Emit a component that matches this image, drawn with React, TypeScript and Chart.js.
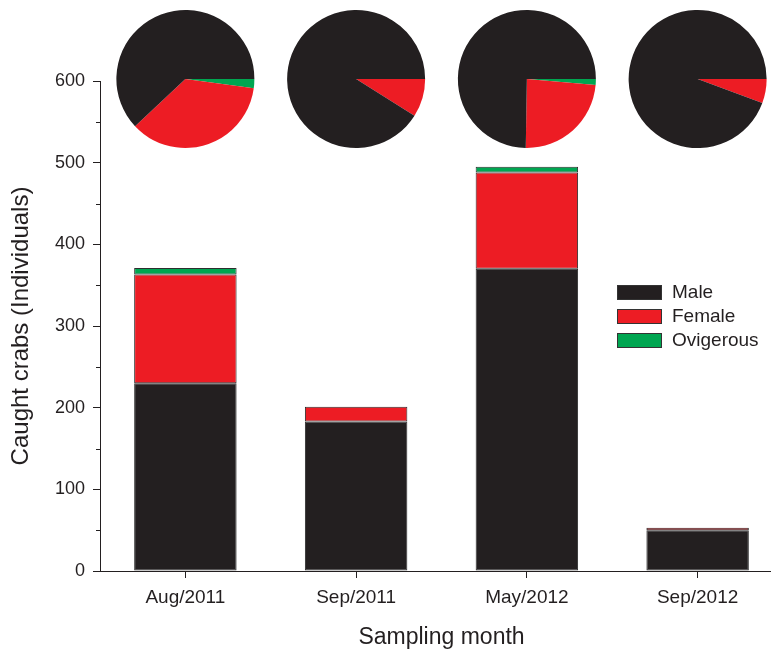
import React, { useEffect, useRef } from "react";
import { Chart, registerables } from "chart.js";

Chart.register(...registerables);

const categories = ["Aug/2011", "Sep/2011", "May/2012", "Sep/2012"];
const male = [230, 183, 370, 50];
const female = [133, 18, 118, 3];
const ovigerous = [8, 0, 7, 0];
const seriesNames = ["Male", "Female", "Ovigerous"];
const minorTicks = [50, 150, 250, 350, 450, 550];

const BLACK = "#231f20";
const RED = "#ed1c24";
const GREEN = "#00a651";
const FONT = "'Liberation Sans', Arial, Helvetica, sans-serif";

export default function App() {
  const ref = useRef<HTMLCanvasElement>(null);

  useEffect(() => {
    if (!ref.current) return;

    const piePlugin = {
      id: "pies",
      afterDatasetsDraw(chart: any) {
        const ctx = chart.ctx;
        const xs = chart.scales.x;
        const cy = chart.chartArea.top - 2;
        const r = 69;
        ctx.save();
        categories.forEach((_, i) => {
          const cx = xs.getPixelForValue(i);
          const parts = [ovigerous[i], female[i], male[i]];
          const cols = [GREEN, RED, BLACK];
          const total = parts.reduce((a, b) => a + b, 0);
          let a = 0;
          parts.forEach((v, k) => {
            if (!v) return;
            const a2 = a + (v / total) * Math.PI * 2;
            ctx.beginPath();
            ctx.moveTo(cx, cy);
            ctx.arc(cx, cy, r, a, a2);
            ctx.closePath();
            ctx.fillStyle = cols[k];
            ctx.fill();
            a = a2;
          });
        });
        ctx.restore();
      },
    };

    const extrasPlugin = {
      id: "extras",
      afterDraw(chart: any) {
        const ctx = chart.ctx;
        const ys = chart.scales.y;
        const left = chart.chartArea.left;
        ctx.save();
        ctx.strokeStyle = BLACK;
        ctx.lineWidth = 1;
        minorTicks.forEach((v) => {
          const y = Math.round(ys.getPixelForValue(v)) + 0.5;
          ctx.beginPath();
          ctx.moveTo(left - 4, y);
          ctx.lineTo(left, y);
          ctx.stroke();
        });
        // legend
        const cols = [BLACK, RED, GREEN];
        const lx = 617;
        const ly = 285;
        ctx.font = `19px ${FONT}`;
        ctx.textBaseline = "middle";
        ctx.textAlign = "left";
        seriesNames.forEach((name, k) => {
          const y = ly + k * 24;
          ctx.fillStyle = cols[k];
          ctx.fillRect(lx, y, 45, 15);
          ctx.strokeStyle = "#333";
          ctx.strokeRect(lx + 0.5, y + 0.5, 44, 14);
          ctx.fillStyle = BLACK;
          ctx.fillText(name, lx + 55, y + 8);
        });
        ctx.restore();
      },
    };

    const mk = (label: string, data: number[], color: string) => ({
      label,
      data,
      backgroundColor: color,
      borderColor: "#2e2e2e",
      borderWidth: 1,
      borderSkipped: false,
      categoryPercentage: 1,
      barPercentage: 0.6,
    });

    const chart = new Chart(ref.current, {
      type: "bar",
      data: {
        labels: categories,
        datasets: [
          mk(seriesNames[0], male, BLACK),
          mk(seriesNames[1], female, RED),
          mk(seriesNames[2], ovigerous, GREEN),
        ],
      },
      plugins: [piePlugin, extrasPlugin],
      options: {
        responsive: false,
        animation: false,
        events: [],
        layout: { padding: { top: 81, left: 0, right: 0, bottom: 0 } },
        plugins: { legend: { display: false }, tooltip: { enabled: false } },
        scales: {
          x: {
            stacked: true,
            grid: {
              offset: false,
              drawOnChartArea: false,
              tickLength: 7,
              tickColor: BLACK,
              color: BLACK,
            },
            border: { display: true, color: BLACK, width: 1 },
            ticks: { font: { family: FONT, size: 19 }, color: BLACK, padding: 8 },
            title: {
              display: true,
              text: "Sampling month",
              font: { family: FONT, size: 23 },
              color: BLACK,
              padding: { top: 0, bottom: 1 },
            },
            afterFit: (s: any) => {
              s.height = 81;
            },
          },
          y: {
            stacked: true,
            min: 0,
            max: 600,
            grid: {
              drawOnChartArea: false,
              tickLength: 7,
              tickColor: BLACK,
              color: BLACK,
            },
            border: { display: true, color: BLACK, width: 1 },
            ticks: {
              stepSize: 100,
              font: { family: FONT, size: 18 },
              color: BLACK,
              padding: 8,
            },
            title: {
              display: true,
              text: "Caught crabs (Individuals)",
              font: { family: FONT, size: 24 },
              color: BLACK,
              padding: { top: 7, bottom: 0 },
            },
            afterFit: (s: any) => {
              s.width = 100;
            },
          },
        },
      },
    });
    return () => chart.destroy();
  }, []);

  return (
    <div
      style={{
        position: "fixed",
        left: 0,
        top: 0,
        width: 771,
        height: 652,
        overflow: "hidden",
        background: "#fff",
      }}
    >
      <canvas ref={ref} width={783} height={652} style={{ display: "block" }} />
    </div>
  );
}
